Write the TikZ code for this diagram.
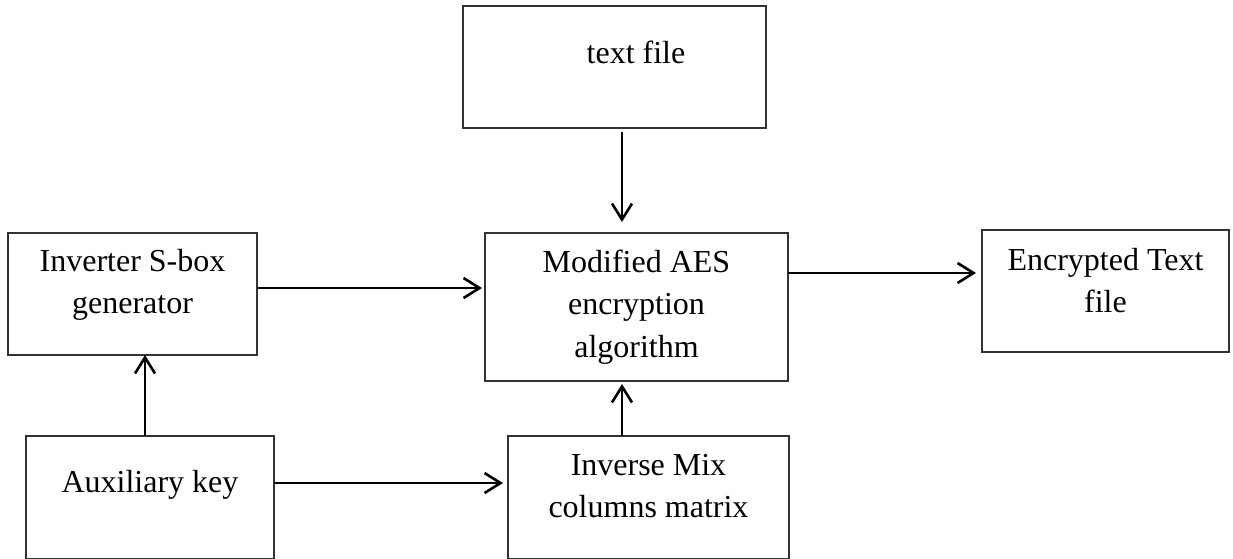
\documentclass[tikz,border=0pt]{standalone}
\usepackage{fontspec}
\setmainfont{Liberation Serif}
\usetikzlibrary{arrows.meta}

\tikzset{
  blockbox/.style={draw=black!80, line width=1.2pt, rectangle, inner sep=0pt, outer sep=0pt},
  % anchored at the baseline of the last line
  blocktext/.style={align=center, inner sep=0pt, anchor=base,
    font=\fontsize{32}{42}\selectfont},
  flow/.style={line width=2.6pt, -{Straight Barb[length=16pt, width=20pt, line width=2.6pt]}},
}

\begin{document}
\begin{tikzpicture}[x=1pt, y=-1pt]
  \useasboundingbox (0,0) rectangle (1233,558);

  % blocks (centre, size)
  \node[blockbox, minimum width=303pt, minimum height=122pt] (tf)  at (614.5,67)   {};
  \node[blockbox, minimum width=303pt, minimum height=148pt] (aes) at (636.5,307)  {};
  \node[blockbox, minimum width=249pt, minimum height=122pt] (inv) at (132.5,294)  {};
  \node[blockbox, minimum width=247pt, minimum height=122pt] (enc) at (1105.5,291) {};
  \node[blockbox, minimum width=248pt, minimum height=123pt] (aux) at (150,497.5)  {};
  \node[blockbox, minimum width=281pt, minimum height=123pt] (mix) at (648.5,497.5) {};

  % block labels
  \node[blocktext] (tf-t)  at (636,63)    {text file};
  \node[blocktext] (aes-t) at (636.5,357) {Modified AES\\[0.5pt]encryption\\[0.5pt]algorithm};
  \node[blocktext] (inv-t) at (132.5,313) {Inverter S-box\\generator};
  \node[blocktext] (enc-t) at (1105.5,312){Encrypted Text\\file};
  \node[blocktext] (aux-t) at (150,492)   {Auxiliary key};
  \node[blocktext] (mix-t) at (648.5,517) {Inverse Mix\\columns matrix};

  % connectors
  \draw[flow, shorten <=4pt, shorten >=11pt]
    ([xshift=7.5pt]tf.south) -- ([xshift=7.5pt]tf.south |- aes.north);
  \draw[flow, shorten >=3pt]
    ([yshift=6pt]inv.east) -- ([yshift=6pt]inv.east -| aes.west);
  \draw[flow, shorten >=6pt]
    ([yshift=34pt]aes.east) -- ([yshift=34pt]aes.east -| enc.west);
  \draw[flow]
    ([xshift=-5pt]aux.north) -- ([xshift=-5pt]aux.north |- inv.south);
  \draw[flow, shorten >=5pt]
    ([yshift=14.5pt]aux.east) -- ([yshift=14.5pt]aux.east -| mix.west);
  \draw[flow, shorten >=3pt]
    ([xshift=-26.5pt]mix.north) -- ([xshift=-26.5pt]mix.north |- aes.south);
\end{tikzpicture}
\end{document}
